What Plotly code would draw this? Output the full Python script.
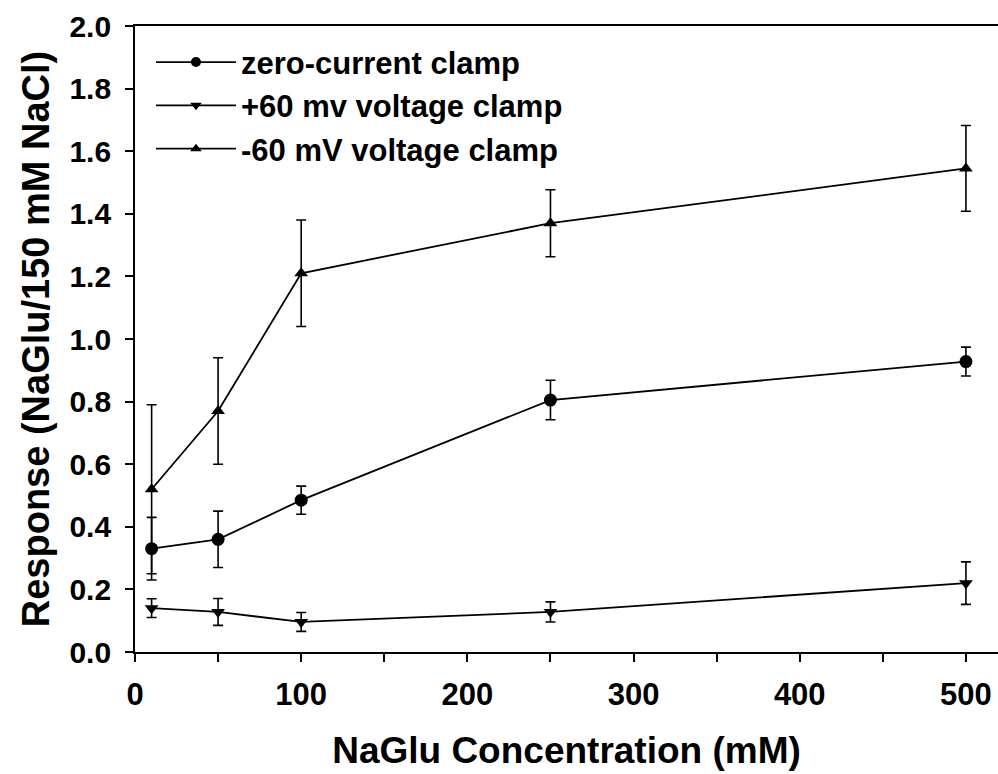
import plotly.graph_objects as go

conc = [10, 50, 100, 250, 500]

zero_current = [0.33, 0.36, 0.485, 0.805, 0.928]
zero_current_err = [0.10, 0.09, 0.045, 0.063, 0.046]

plus60 = [0.14, 0.128, 0.096, 0.128, 0.22]
plus60_err = [0.03, 0.043, 0.03, 0.032, 0.068]

minus60 = [0.52, 0.77, 1.21, 1.37, 1.545]
minus60_err = [0.27, 0.17, 0.17, 0.107, 0.137]

names = ["zero-current clamp", "+60 mv voltage clamp", "-60 mV voltage clamp"]
symbols = ["circle", "triangle-down", "triangle-up"]

FONT = "Liberation Sans, Arial, sans-serif"

fig = go.Figure()
for i, (y, e) in enumerate([(zero_current, zero_current_err),
                            (plus60, plus60_err),
                            (minus60, minus60_err)]):
    fig.add_trace(go.Scatter(
        x=conc, y=y, name=names[i], mode="lines+markers",
        line=dict(color="black", width=1.8),
        marker=dict(symbol=symbols[i], size=13 if i == 0 else 12, color="black"),
        error_y=dict(type="data", array=e, visible=True, color="black",
                     thickness=1.6, width=5),
        showlegend=False,
    ))
# legend entries (smaller markers, as in the original legend)
for i in range(3):
    fig.add_trace(go.Scatter(
        x=[None], y=[None], name=names[i], mode="lines+markers",
        line=dict(color="black", width=1.8),
        marker=dict(symbol=symbols[i], size=10, color="black"),
        legendgroup=f"g{i}", showlegend=True,
    ))

fig.update_layout(
    width=998, height=774,
    margin=dict(l=135, r=0, t=26, b=122),
    paper_bgcolor="white", plot_bgcolor="white",
    font=dict(family=FONT, color="black", size=31, weight="bold"),
    showlegend=True,
    legend=dict(x=0.0185, y=0.985, xanchor="left", yanchor="top",
                bgcolor="rgba(0,0,0,0)", font=dict(size=31, weight="bold"),
                tracegroupgap=0, itemwidth=80),
    xaxis=dict(range=[0, 519.3], tickvals=[0, 100, 200, 300, 400, 500],
               ticks="outside", ticklen=8, tickwidth=1.6, tickcolor="black",
               minor=dict(tickvals=[50, 150, 250, 350, 450], ticks="outside",
                          ticklen=8, tickwidth=1.6, tickcolor="black"),
               showline=True, linecolor="black", linewidth=1.8, mirror=True,
               showgrid=False, zeroline=False,
               tickfont=dict(size=31, weight="bold"),
               ticklabelstandoff=6,
               title=dict(text="NaGlu Concentration (mM)",
                          font=dict(size=37, weight="bold"), standoff=26)),
    yaxis=dict(range=[0, 2.0], dtick=0.2, tickformat=".1f",
               ticks="outside", ticklen=8, tickwidth=1.6, tickcolor="black",
               showline=True, linecolor="black", linewidth=1.8,
               showgrid=False, zeroline=False,
               tickfont=dict(size=30, weight="bold"),
               ticklabelstandoff=8,
               title=dict(text="Response (NaGlu/150 mM NaCl)",
                          font=dict(size=38, weight="bold"), standoff=8)),
)

fig.write_html("out.html")
